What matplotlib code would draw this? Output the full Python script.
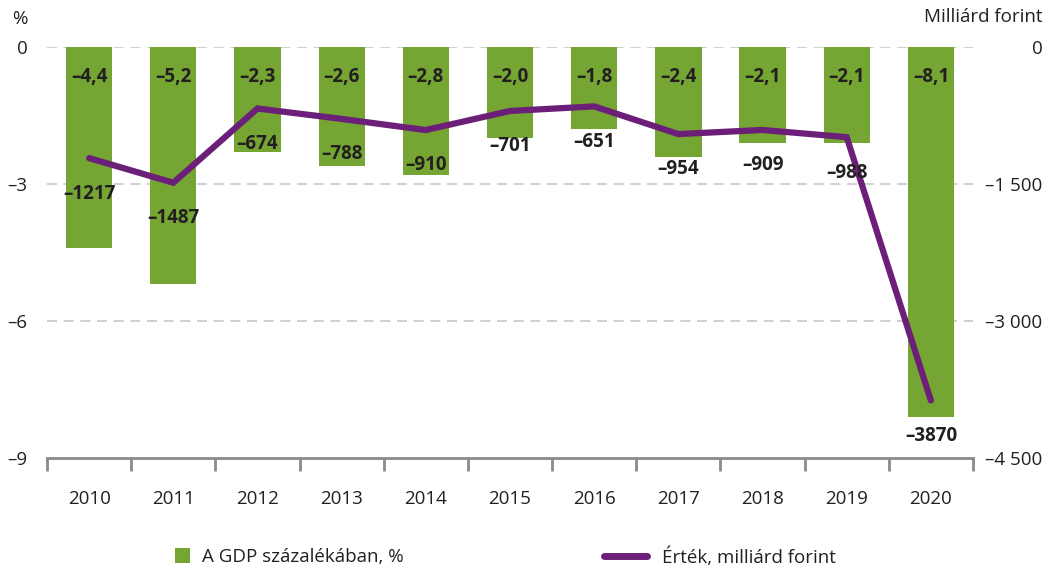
import matplotlib
matplotlib.use("Agg")
import matplotlib.pyplot as plt
from matplotlib.lines import Line2D
from matplotlib.patches import Patch

years = ["2010", "2011", "2012", "2013", "2014", "2015", "2016", "2017", "2018", "2019", "2020"]
gdp_pct = [-4.4, -5.2, -2.3, -2.6, -2.8, -2.0, -1.8, -2.4, -2.1, -2.1, -8.1]
value_bn = [-1217, -1487, -674, -788, -910, -701, -651, -954, -909, -988, -3870]
left_ticks = [0, -3, -6, -9]
right_ticks = [0, -1500, -3000, -4500]
right_tick_labels = ["0", "–1 500", "–3 000", "–4 500"]

GREEN = "#75A532"
PURPLE = "#6C1F78"
TEXT = "#231F20"
GRID = "#C8C8C8"
AX = "#8A8A8A"
FS = 13.5

plt.rcParams['font.family'] = ['Open Sans', 'DejaVu Sans']

fig = plt.figure(figsize=(10.57, 5.71), dpi=100)
ax = fig.add_axes([0.0445, 0.198, 0.876, 0.7198])
ax2 = ax.twinx()

x = list(range(len(years)))
ax.bar(x, gdp_pct, width=0.55, color=GREEN, zorder=2)
ax.set_xlim(-0.5, len(years) - 0.5)
ax.set_ylim(-9, 0)
ax2.set_ylim(-4500, 0)

for yv in [0, -3, -6]:
    ax.axhline(yv, color=GRID, lw=1.2, ls=(0, (6, 4)), zorder=1)

ax.set_yticks(left_ticks)
ax.set_yticklabels([("–" + str(-t)) if t < 0 else str(t) for t in left_ticks], fontsize=FS, color=TEXT)
ax.tick_params(axis='y', length=0, pad=14)

ax.set_xticks(x)
ax.set_xticklabels(years, fontsize=FS, color=TEXT)
ax.set_xticks([i - 0.5 for i in range(len(years) + 1)], minor=True)
ax.tick_params(axis='x', which='major', length=0, pad=23)
ax.tick_params(axis='x', which='minor', length=9, width=2, color=AX, direction='out')

ax2.set_yticks(right_ticks)
ax2.set_yticklabels(right_tick_labels, fontsize=FS, color=TEXT, ha='right')
ax2.tick_params(axis='y', length=0, pad=50)

for a in (ax, ax2):
    for s in ['top', 'left', 'right']:
        a.spines[s].set_visible(False)
ax.spines['bottom'].set_color(AX)
ax.spines['bottom'].set_linewidth(2)
ax2.spines['bottom'].set_visible(False)

ax2.plot(x, value_bn, color=PURPLE, lw=4.5, solid_capstyle='round', solid_joinstyle='miter', zorder=3)

for i, v in enumerate(gdp_pct):
    ax.annotate(("–%.1f" % (-v)).replace(".", ","), (i, 0), xytext=(0, -21.5), textcoords='offset points',
                ha='center', va='center', fontsize=FS, fontweight='bold', color=TEXT, zorder=4)
for i, v in enumerate(value_bn):
    ax2.annotate("–%d" % (-v), (i, v), xytext=(0, -25.5), textcoords='offset points',
                 ha='center', va='center', fontsize=FS, fontweight='bold', color=TEXT, zorder=4)

fig.text(12 / 1057, 1 - 19 / 571, "%", fontsize=FS, color=TEXT, va='center', ha='left')
fig.text(1042 / 1057, 1 - 17 / 571, "Milliárd forint", fontsize=FS, color=TEXT, va='center', ha='right')

leg1 = fig.legend([Patch(facecolor=GREEN, edgecolor='none')], ["A GDP százalékában, %"],
                  loc='center left', bbox_to_anchor=(175 / 1057, 1 - 557 / 571), frameon=False,
                  fontsize=FS, handlelength=0.82, handleheight=0.82, handletextpad=0.6,
                  borderpad=0, borderaxespad=0, labelcolor=TEXT)
leg2 = fig.legend([Line2D([0], [0], color=PURPLE, lw=5, solid_capstyle='round')], ["Érték, milliárd forint"],
                  loc='center left', bbox_to_anchor=(604 / 1057, 1 - 557 / 571), frameon=False,
                  fontsize=FS, handlelength=2.3, handletextpad=0.8,
                  borderpad=0, borderaxespad=0, labelcolor=TEXT)

fig.savefig("out.png", dpi=100)
